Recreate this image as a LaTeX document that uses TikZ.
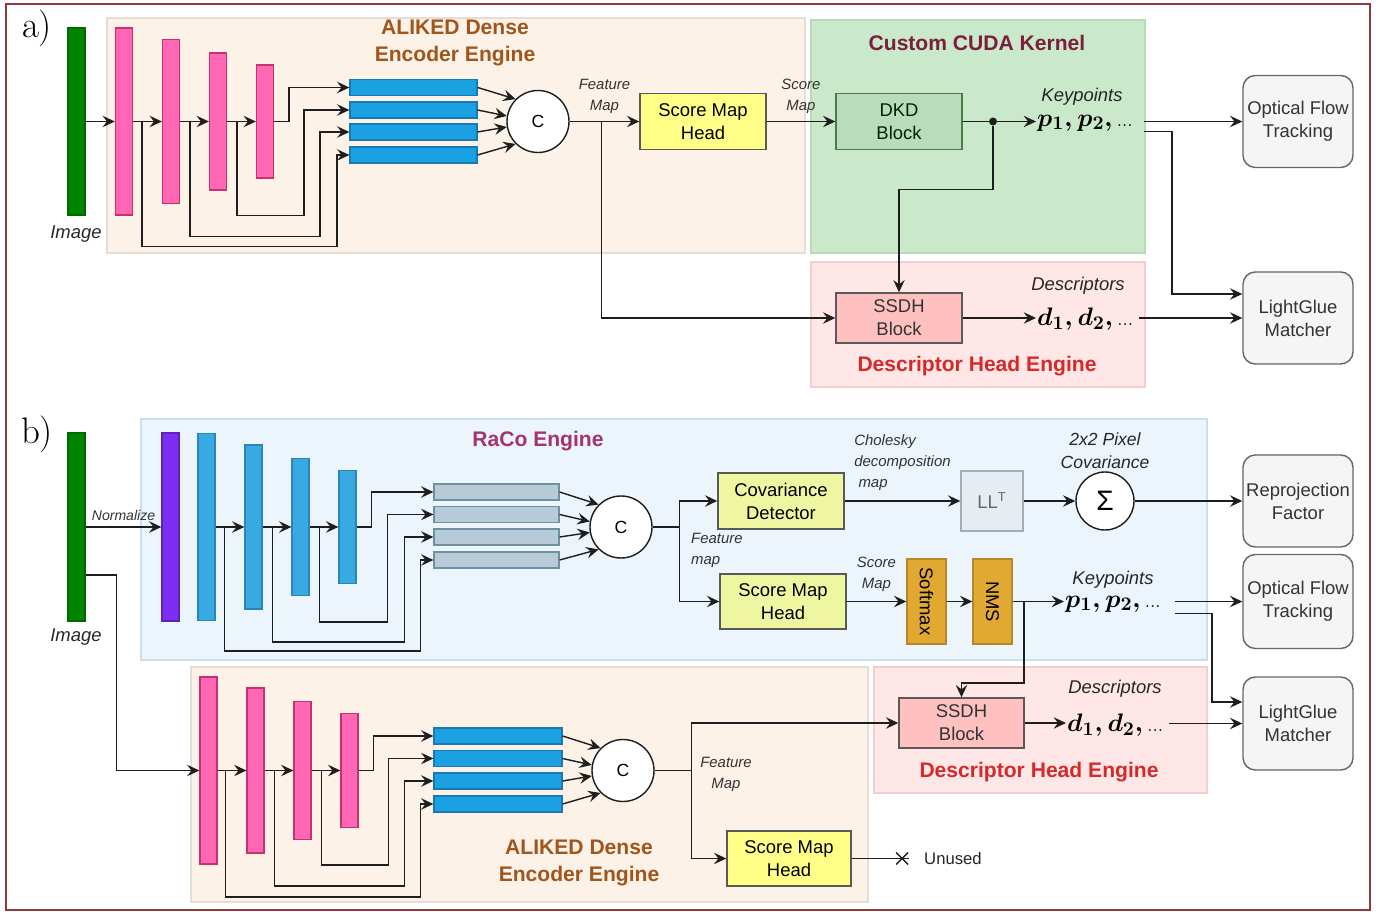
\documentclass[tikz,border=0pt]{standalone}
\usepackage{amsmath}
\usepackage{fontspec}
\setsansfont{Liberation Sans}
\usetikzlibrary{positioning,arrows.meta}
\definecolor{framec}{HTML}{8E3B3B}
\definecolor{linec}{HTML}{1E1E1E}
\definecolor{imggreen}{HTML}{008500}
\definecolor{alipink}{HTML}{FF66B3}
\definecolor{alipinkb}{HTML}{C8306E}
\definecolor{aliblue}{HTML}{1BA1E2}
\definecolor{alibluebd}{HTML}{1779B5}
\definecolor{racocyan}{HTML}{38A9E1}
\definecolor{racocyanb}{HTML}{2A86BA}
\definecolor{racopurple}{HTML}{7D2EF3}
\definecolor{greybar}{HTML}{B7CAD8}
\definecolor{greybarb}{HTML}{6F8FA5}
\definecolor{peach}{HTML}{FDF2E8}
\definecolor{peachb}{HTML}{E6DDD4}
\definecolor{cudagreen}{HTML}{CAE8CA}
\definecolor{cudagreenb}{HTML}{B9D9B9}
\definecolor{descpink}{HTML}{FFE7E7}
\definecolor{descpinkb}{HTML}{F2CECE}
\definecolor{racopanel}{HTML}{ECF5FC}
\definecolor{racopanelb}{HTML}{C9DFEE}
\definecolor{headyellow}{HTML}{FFFF88}
\definecolor{covyellow}{HTML}{EFF6A2}
\definecolor{dkdgreen}{HTML}{B9DDB9}
\definecolor{dkdgreenb}{HTML}{4D7A4D}
\definecolor{ssdhpink}{HTML}{FFC0C0}
\definecolor{gateorange}{HTML}{E2A932}
\definecolor{gateorangeb}{HTML}{B7862A}
\definecolor{outgrey}{HTML}{F5F5F5}
\definecolor{lltfill}{HTML}{E5ECF2}
\definecolor{lltb}{HTML}{A0AEBB}
\definecolor{alikedtxt}{HTML}{A0561B}
\definecolor{cudatxt}{HTML}{7B1F3F}
\definecolor{desctxt}{HTML}{D42A2A}
\definecolor{racotxt}{HTML}{A33471}
\newcommand{\tdots}{{\fontsize{11}{12}\selectfont\rmfamily...}}
\tikzset{wh/.style 2 args={minimum width=#1*0.02cm, minimum height=#2*0.02cm, inner sep=0pt}}
\tikzset{arr/.style={draw=linec, line width=0.8pt, -{Stealth[length=7pt,width=6.5pt,inset=2.5pt]}}}
\tikzset{ln/.style={draw=linec, line width=0.8pt}}
\tikzset{panel/.style 2 args={fill=#1, draw=#2, line width=0.8pt}}
\tikzset{vbar/.style 2 args={fill=#1, draw=#2, line width=0.7pt}}
\tikzset{ttl/.style={font=\sffamily\bfseries\fontsize{12}{15.3}\selectfont, align=center}}
\tikzset{lblit/.style={font=\sffamily\itshape\fontsize{8.5}{12}\selectfont, align=center, text=black!80}}
\tikzset{lblbig/.style={font=\sffamily\itshape\fontsize{10.5}{13}\selectfont, align=center, text=black!85}}
\tikzset{boxtxt/.style={font=\sffamily\fontsize{10.5}{13}\selectfont, align=center}}
\tikzset{headbox/.style={boxtxt, fill=headyellow, draw=black!65, line width=0.8pt}}
\tikzset{covbox/.style={boxtxt, fill=covyellow, draw=black!65, line width=0.8pt}}
\tikzset{dkdbox/.style={boxtxt, fill=dkdgreen, draw=dkdgreenb, line width=0.8pt, text=black!85!green}}
\tikzset{ssdhbox/.style={boxtxt, fill=ssdhpink, draw=black!65, line width=0.8pt, text=black!80}}
\tikzset{outbox/.style={boxtxt, fill=outgrey, draw=black!60, line width=0.8pt, rounded corners=7pt, text=black!80}}
\tikzset{gatebox/.style={boxtxt, fill=gateorange, draw=gateorangeb, line width=0.8pt, rotate=-90}}
\tikzset{catnode/.style={circle, draw=linec, fill=white, line width=0.8pt, font=\sffamily\fontsize{10}{12}\selectfont}}
\tikzset{mathtxt/.style={font=\fontsize{15}{18}\selectfont, inner sep=0.5pt}}
\tikzset{tagtxt/.style={font=\rmfamily\fontsize{21}{24}\selectfont}}

\begin{document}
\begin{tikzpicture}[x=0.02cm, y=-0.02cm]
\useasboundingbox (0,0) rectangle (1384,912);
\draw[draw=framec, line width=0.8pt] (6,4) rectangle (1370,910);
%
% a) ALIKED + custom CUDA kernel
\node[tagtxt] (tagA) at (37,28) {a)};
\draw[panel={peach}{peachb}] (107,18) rectangle (805,253);
\draw[panel={cudagreen}{cudagreenb}] (811,20) rectangle (1145,253);
\draw[panel={descpink}{descpinkb}] (811,262) rectangle (1145,387);
\node[ttl, text=alikedtxt] (encAtxt) at (455,43) {ALIKED Dense\\Encoder Engine};
\node[ttl, text=cudatxt] (cudaAtxt) at (977,43) {Custom CUDA Kernel};
\node[ttl, text=desctxt] (descAtxt) at (977,366) {Descriptor Head Engine};
%
\node[vbar={imggreen}{imggreen!80!black}, wh={17}{187}] (imgA) at (76.5,121.5) {};
\node[lblbig] (imgAtxt) at (76,234) {Image};
\node[vbar={alipink}{alipinkb}, wh={17}{187}] (pA1) at (124,121.5) {};
\node[vbar={alipink}{alipinkb}, wh={17}{164}] (pA2) at (171,121.5) {};
\node[vbar={alipink}{alipinkb}, wh={17}{137}] (pA3) at (218,121.5) {};
\node[vbar={alipink}{alipinkb}, wh={17}{113}] (pA4) at (265,121.5) {};
\node[vbar={aliblue}{alibluebd}, wh={127}{16}] (fA1) at (413.5,87.5) {};
\node[vbar={aliblue}{alibluebd}, wh={127}{16}] (fA2) at (413.5,110) {};
\node[vbar={aliblue}{alibluebd}, wh={127}{16}] (fA3) at (413.5,132) {};
\node[vbar={aliblue}{alibluebd}, wh={127}{16}] (fA4) at (413.5,155) {};
\node[catnode, wh={62}{62}] (cA) at (538,121.5) {C};
%
\draw[arr] (imgA) -- (pA1);
\draw[arr] (pA1) -- (pA2);
\draw[arr] (pA2) -- (pA3);
\draw[arr] (pA3) -- (pA4);
\draw[arr] (pA4.east) -- ++(15,0) |- (fA1.west);
\draw[arr] (pA3.east) ++(10,0) |- ++(67,94) |- (fA2.west);
\draw[arr] (pA2.east) ++(10,0) |- ++(130,115) |- (fA3.west);
\draw[arr] (pA1.east) ++(9,0) |- ++(195,125) |- (fA4.west);
\draw[arr] (fA1.east) -- (cA.135);
\draw[arr] (fA2.east) -- (cA.170);
\draw[arr] (fA3.east) -- (cA.190);
\draw[arr] (fA4.east) -- (cA.225);
%
\node[headbox, wh={126}{56}] (smA) at (703,121.5) {Score Map\\Head};
\node[dkdbox, wh={126}{56}] (dkA) at (899,121.5) {DKD\\Block};
\node[ssdhbox, wh={126}{50}] (ssA) at (899,318) {SSDH\\Block};
\node[circle, fill=linec, inner sep=0pt, minimum size=0.16cm] (jA) at (993,121.5) {};
\node[lblbig] (kpAtxt) at (1082,97) {Keypoints};
\node[mathtxt, anchor=west] (kpA) at (1036,123) {$\boldsymbol{p_1,p_2,}$\,\tdots};
\node[lblbig] (dsAtxt) at (1078,286) {Descriptors};
\node[mathtxt, anchor=west] (dsA) at (1036,319) {$\boldsymbol{d_1,d_2,}$\,\tdots};
\node[outbox, wh={110}{92}] (ofA) at (1298,121.5) {Optical Flow\\Tracking};
\node[outbox, wh={110}{92}] (lgA) at (1298,318) {LightGlue\\Matcher};
%
\draw[arr] (cA) -- node[lblit, above=1pt]{Feature\\Map} (smA);
\draw[arr] (cA.east) ++(32,0) |- (ssA.west);
\draw[arr] (smA) -- node[lblit, above=1pt]{Score\\Map} (dkA);
\draw[ln] (dkA) -- (jA);
\draw[arr] (jA) -- (jA -| kpA.west);
\draw[arr] (jA) -- ++(0,68) -| (ssA.north);
\draw[arr] (ssA) -- (ssA -| dsA.west);
\draw[arr] ([xshift=0.2cm]ofA -| kpA.east) -- (ofA);
\draw[arr] ([xshift=0.2cm,yshift=-0.2cm]ofA -| kpA.east) -- ++(28,0) |- ([yshift=0.48cm]lgA.west);
\draw[arr] ([xshift=0.1cm]lgA -| dsA.east) -- (lgA);
%
% b) RaCo engine + ALIKED descriptors
\node[tagtxt] (tagB) at (37,434) {b)};
\draw[panel={racopanel}{racopanelb}] (141,419) rectangle (1207,660);
\draw[panel={peach}{peachb}] (191,667) rectangle (868,902);
\draw[panel={descpink}{descpinkb}] (874,667) rectangle (1207,793);
\node[ttl, text=racotxt] (racoBtxt) at (538,441) {RaCo Engine};
\node[ttl, text=desctxt] (descBtxt) at (1039,772) {Descriptor Head Engine};
\node[ttl, text=alikedtxt] (encBtxt) at (579,863) {ALIKED Dense\\Encoder Engine};
%
\node[vbar={imggreen}{imggreen!80!black}, wh={17}{188}] (imgB) at (76.5,527) {};
\node[lblbig] (imgBtxt) at (76,637) {Image};
\node[vbar={racopurple}{racopurple!75!black}, wh={17}{188}] (puB) at (170.5,527) {};
\node[vbar={racocyan}{racocyanb}, wh={17}{187}] (rB1) at (206.5,527) {};
\node[vbar={racocyan}{racocyanb}, wh={17}{164}] (rB2) at (253.5,527) {};
\node[vbar={racocyan}{racocyanb}, wh={17}{137}] (rB3) at (300.5,527) {};
\node[vbar={racocyan}{racocyanb}, wh={17}{113}] (rB4) at (347.5,527) {};
\node[vbar={greybar}{greybarb}, wh={125}{16}] (gB1) at (496.5,492) {};
\node[vbar={greybar}{greybarb}, wh={125}{16}] (gB2) at (496.5,514.5) {};
\node[vbar={greybar}{greybarb}, wh={125}{16}] (gB3) at (496.5,537) {};
\node[vbar={greybar}{greybarb}, wh={125}{16}] (gB4) at (496.5,560) {};
\node[catnode, wh={62}{62}] (cB) at (621,527) {C};
%
\draw[arr] (imgB) -- node[lblit, above=0pt, font=\sffamily\itshape\fontsize{8}{10}\selectfont]{Normalize} (puB);
\draw[arr] (rB1) -- (rB2);
\draw[arr] (rB2) -- (rB3);
\draw[arr] (rB3) -- (rB4);
\draw[arr] (rB4.east) -- ++(15,0) |- (gB1.west);
\draw[arr] (rB3.east) ++(10,0) |- ++(68,95) |- (gB2.west);
\draw[arr] (rB2.east) ++(10,0) |- ++(132,115) |- (gB3.west);
\draw[arr] (rB1.east) ++(9,0) |- ++(196,124) |- (gB4.west);
\draw[arr] (gB1.east) -- (cB.135);
\draw[arr] (gB2.east) -- (cB.170);
\draw[arr] (gB3.east) -- (cB.190);
\draw[arr] (gB4.east) -- (cB.225);
%
\node[covbox, wh={126}{56}] (cvB) at (781,501) {Covariance\\Detector};
\node[covbox, wh={126}{55}] (smB) at (783,601.5) {Score Map\\Head};
\node[boxtxt, fill=lltfill, draw=lltb, line width=0.8pt, text=black!60, wh={62}{60}] (llB) at (992,501) {LL\textsuperscript{T}};
\node[catnode, wh={58}{58}, font=\sffamily\fontsize{16}{18}\selectfont] (sgB) at (1105,501) {Σ};
\node[lblbig, font=\sffamily\itshape\fontsize{10}{13}\selectfont] (sgBtxt) at (1105,451) {2x2 Pixel\\Covariance};
\node[outbox, wh={110}{92}] (rpB) at (1298,501) {Reprojection\\Factor};
\node[gatebox, wh={85}{39}] (sfB) at (926.5,601.5) {Softmax};
\node[gatebox, wh={85}{39}] (nmB) at (992.5,601.5) {NMS};
\node[lblbig] (kpBtxt) at (1113,580) {Keypoints};
\node[mathtxt, anchor=west] (kpB) at (1064,604) {$\boldsymbol{p_1,p_2,}$\,\tdots};
\node[outbox, wh={110}{94}] (ofB) at (1298,601.5) {Optical Flow\\Tracking};
\node[ssdhbox, wh={125}{50}] (ssB) at (961.5,723) {SSDH\\Block};
\node[lblbig] (dsBtxt) at (1115,689) {Descriptors};
\node[mathtxt, anchor=west] (dsB) at (1066,725) {$\boldsymbol{d_1,d_2,}$\,\tdots};
\node[outbox, wh={110}{93}] (lgB) at (1298,723.5) {LightGlue\\Matcher};
%
\draw[arr] (cB.east) -- ++(27,0) |- (cvB.west);
\draw[arr] (cB.east) ++(27,0) |- (smB.west);
\node[lblit, align=left, anchor=west] (fmBtxt) at (685,550) {Feature\\map};
\draw[arr] (cvB) -- node[lblit, above=2pt, align=left]{Cholesky\\decomposition\\\ map} (llB);
\draw[arr] (llB) -- (sgB);
\draw[arr] (sgB) -- (rpB);
\draw[arr] (smB) -- node[lblit, above=2pt]{Score\\Map} (sfB);
\draw[arr] (sfB) -- (nmB);
\draw[arr] (nmB) -- (nmB -| kpB.west);
\draw[arr] (nmB.center) ++(31.5,0) -- ++(0,81.5) -| (ssB.north);
\draw[arr] ([xshift=0.26cm]ofB -| kpB.east) -- (ofB);
\draw[arr] ([xshift=0.26cm,yshift=-0.24cm]ofB -| kpB.east) -- ++(37,0) |- ([yshift=0.43cm]lgB.west);
\draw[arr] (ssB) -- (ssB -| dsB.west);
\draw[arr] ([xshift=0.1cm]lgB -| dsB.east) -- (lgB);
%
\node[vbar={alipink}{alipinkb}, wh={17}{187}] (pE1) at (208.5,770.5) {};
\node[vbar={alipink}{alipinkb}, wh={17}{165}] (pE2) at (255.5,770.5) {};
\node[vbar={alipink}{alipinkb}, wh={17}{138}] (pE3) at (302.5,770.5) {};
\node[vbar={alipink}{alipinkb}, wh={17}{114}] (pE4) at (349.5,770.5) {};
\node[vbar={aliblue}{alibluebd}, wh={128}{16}] (fE1) at (498,736) {};
\node[vbar={aliblue}{alibluebd}, wh={128}{16}] (fE2) at (498,758.5) {};
\node[vbar={aliblue}{alibluebd}, wh={128}{16}] (fE3) at (498,781) {};
\node[vbar={aliblue}{alibluebd}, wh={128}{16}] (fE4) at (498,804) {};
\node[catnode, wh={62}{62}] (cE) at (623,770.5) {C};
\node[headbox, wh={124}{55}] (smE) at (789,858.5) {Score Map\\Head};
\node[font=\sffamily\fontsize{9.5}{11}\selectfont, text=black!85] (unE) at (953,858.5) {Unused};
%
\draw[arr] ([yshift=-0.96cm]imgB.east) -- ++(31,0) |- (pE1.west);
\draw[arr] (pE1) -- (pE2);
\draw[arr] (pE2) -- (pE3);
\draw[arr] (pE3) -- (pE4);
\draw[arr] (pE4.east) -- ++(15,0) |- (fE1.west);
\draw[arr] (pE3.east) ++(10,0) |- ++(67,94.5) |- (fE2.west);
\draw[arr] (pE2.east) ++(10,0) |- ++(130,115.5) |- (fE3.west);
\draw[arr] (pE1.east) ++(8,0) |- ++(195,126.5) |- (fE4.west);
\draw[arr] (fE1.east) -- (cE.135);
\draw[arr] (fE2.east) -- (cE.170);
\draw[arr] (fE3.east) -- (cE.190);
\draw[arr] (fE4.east) -- (cE.225);
\draw[arr] (cE.east) -- ++(37,0) |- (ssB.west);
\draw[arr] (cE.east) ++(37,0) |- (smE.west);
\node[lblit] (fmEtxt) at (726,774) {Feature\\Map};
\draw[ln] (smE.east) -- ([xshift=-0.18cm]unE.west) coordinate (xu);
\draw[ln] (xu) ++(-13,-6) -- ++(12,12) ++(0,-12) -- ++(-12,12);
\end{tikzpicture}
\end{document}
